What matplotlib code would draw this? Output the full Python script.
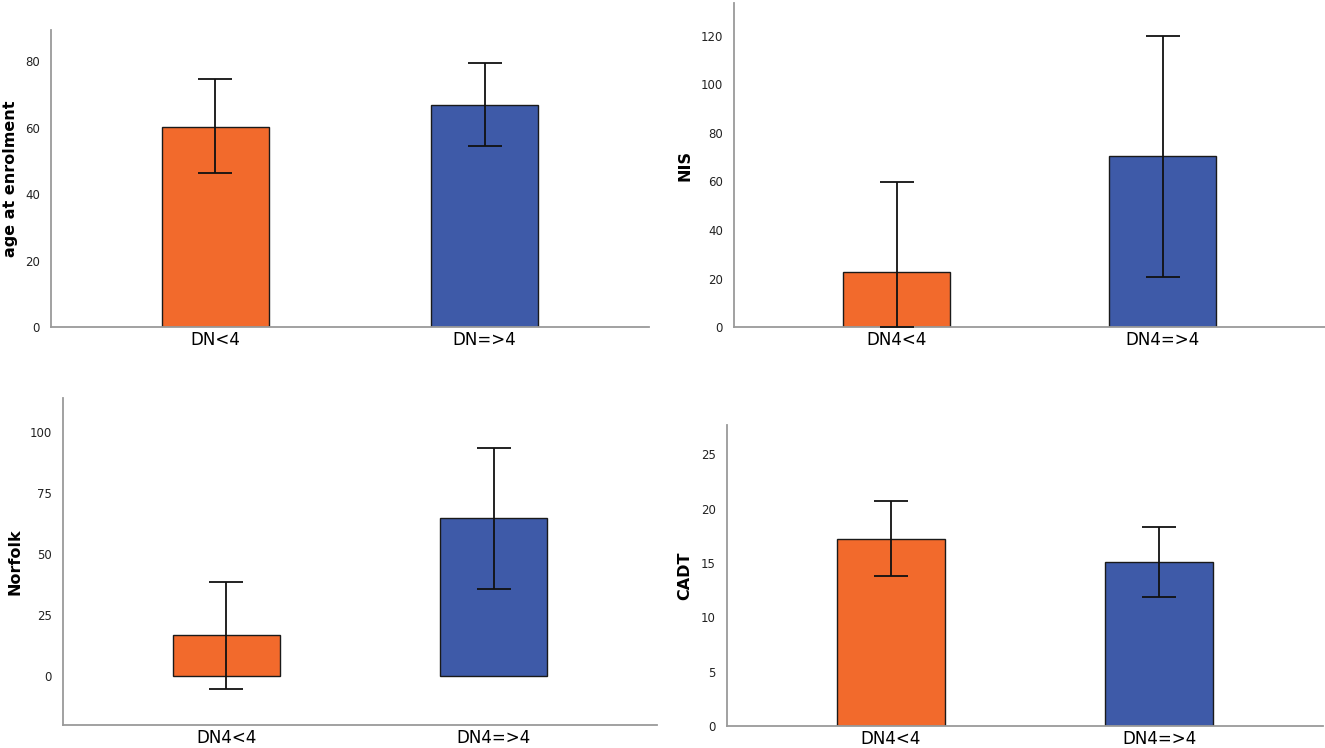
import matplotlib
matplotlib.use("Agg")
import matplotlib.pyplot as plt

# Datos de cada panel (media y límites del intervalo)
groups_top_left = ["DN<4", "DN=>4"]
groups = ["DN4<4", "DN4=>4"]

age_mean = [60.3, 66.9]
age_low = [46.3, 54.4]
age_high = [74.6, 79.5]

nis_mean = [22.8, 70.3]
nis_low = [0.0, 20.5]
nis_high = [59.6, 120.0]

norfolk_mean = [16.7, 64.7]
norfolk_low = [-5.1, 35.9]
norfolk_high = [38.5, 93.4]

cadt_mean = [17.25, 15.1]
cadt_low = [13.8, 11.9]
cadt_high = [20.75, 18.3]

bar_colors = ["#F26A2C", "#3E5AA8"]

panels = [
    # label, cats, mean, low, high, ylim, ticks, rect, posicion de la etiqueta
    ("age at enrolment", groups_top_left, age_mean, age_low, age_high,
     (0, 89.3), [0, 20, 40, 60, 80], [0.0385, 0.5628, 0.4513, 0.397], -0.056),
    ("NIS", groups, nis_mean, nis_low, nis_high,
     (0, 133.5), [0, 20, 40, 60, 80, 100, 120], [0.554, 0.5628, 0.446, 0.433], -0.070),
    ("Norfolk", groups, norfolk_mean, norfolk_low, norfolk_high,
     (-20, 114), [0, 25, 50, 75, 100], [0.0475, 0.0307, 0.4483, 0.4373], -0.068),
    ("CADT", groups, cadt_mean, cadt_low, cadt_high,
     (0, 27.7), [0, 5, 10, 15, 20, 25], [0.5487, 0.0294, 0.4498, 0.4024], -0.058),
]

fig = plt.figure(figsize=(13.25, 7.48), dpi=100)

for label, cats, mean, low, high, ylim, ticks, rect, lab_x in panels:
    ax = fig.add_axes(rect)
    x = list(range(len(cats)))
    ax.bar(x, mean, width=0.40, color=bar_colors, edgecolor="#1a1a1a",
           linewidth=1.0, zorder=2)
    err = [[m - l for m, l in zip(mean, low)], [h - m for m, h in zip(mean, high)]]
    ax.errorbar(x, mean, yerr=err, fmt="none", ecolor="#111111",
                elinewidth=1.3, capsize=12, capthick=1.3, zorder=3)

    ax.set_xlim(-0.611, 1.611)
    ax.set_ylim(*ylim)
    ax.set_yticks(ticks)
    ax.set_xticks(x)
    ax.set_xticklabels(cats, fontsize=12)
    ax.set_yticklabels([str(t) for t in ticks], fontsize=8.5, color="#222222")
    ax.tick_params(length=0)
    ax.tick_params(axis="x", pad=3)
    ax.tick_params(axis="y", pad=8)

    for side in ["top", "right"]:
        ax.spines[side].set_visible(False)
    for side in ["left", "bottom"]:
        ax.spines[side].set_color("#9a9a9a")
        ax.spines[side].set_linewidth(1.3)

    ax.set_ylabel(label, fontsize=11.5, fontweight="bold")
    ax.yaxis.set_label_coords(lab_x, 0.5)

fig.savefig("out.png", dpi=100)
